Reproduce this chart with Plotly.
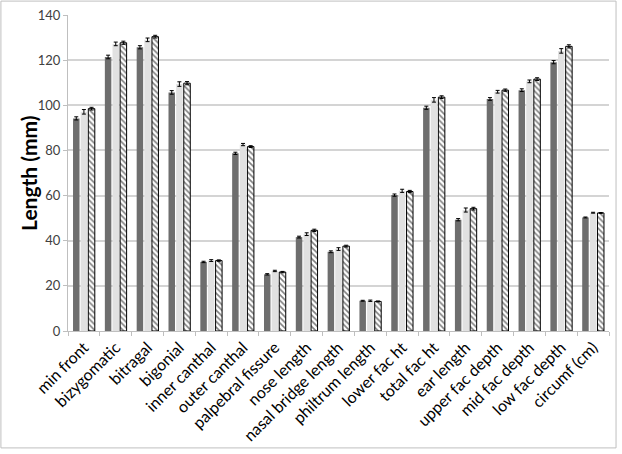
import plotly.graph_objects as go

categories = ["min front", "bizygomatic", "bitragal", "bigonial", "inner canthal",
              "outer canthal", "palpebral fissure", "nose length", "nasal bridge length",
              "philtrum length", "lower fac ht", "total fac ht", "ear length",
              "upper fac depth", "mid fac depth", "low fac depth", "circumf (cm)"]

series_a = [94.2, 121.4, 125.7, 105.7, 30.6, 78.7, 25.1, 41.6, 35.1, 13.4, 60.2, 98.9,
            49.3, 102.8, 106.7, 119.1, 50.3]
series_b = [97.1, 127.2, 129.0, 109.4, 31.2, 82.6, 26.6, 42.9, 36.3, 13.4, 62.1, 102.4,
            53.6, 106.0, 110.6, 124.1, 52.4]
series_c = [98.5, 127.7, 130.4, 109.8, 31.2, 81.7, 26.1, 44.6, 37.6, 13.1, 61.8, 103.6,
            54.2, 106.7, 111.6, 126.1, 52.3]

err_a = [0.7, 0.8, 0.7, 0.8, 0.3, 0.5, 0.3, 0.4, 0.4, 0.2, 0.5, 0.7, 0.5, 0.6, 0.6, 0.7, 0.2]
err_b = [1.0, 0.8, 0.8, 1.0, 0.4, 0.5, 0.3, 0.6, 0.6, 0.3, 0.7, 1.0, 0.9, 0.6, 0.6, 1.0, 0.2]
err_c = [0.6, 0.7, 0.6, 0.7, 0.3, 0.4, 0.3, 0.5, 0.4, 0.2, 0.5, 0.6, 0.6, 0.5, 0.6, 0.7, 0.2]

y_ticks = [0, 20, 40, 60, 80, 100, 120, 140]
y_title = "Length (mm)"

eb = dict(type="data", thickness=1, width=2, color="black")

fig = go.Figure()
fig.add_trace(go.Bar(x=categories, y=series_a, name="A",
                     marker=dict(color="#6e6e6e", line=dict(width=0)),
                     error_y=dict(array=err_a, **eb)))
fig.add_trace(go.Bar(x=categories, y=series_b, name="B",
                     marker=dict(color="#e1e1e1", line=dict(width=0)),
                     error_y=dict(array=err_b, **eb)))
fig.add_trace(go.Bar(x=categories, y=series_c, name="C",
                     marker=dict(color="white", line=dict(width=1, color="black"),
                                 pattern=dict(shape="\\", fgcolor="black", bgcolor="white",
                                              size=4, solidity=0.4)),
                     error_y=dict(array=err_c, **eb)))

fig.update_layout(
    width=622, height=454,
    margin=dict(l=68, r=13, t=15, b=123),
    paper_bgcolor="white", plot_bgcolor="white",
    barmode="group", bargap=0.28, bargroupgap=0.15,
    showlegend=False,
    font=dict(family="Lato, Open Sans, sans-serif", size=14, color="black"),
    xaxis=dict(tickangle=-45, tickson="boundaries", ticks="outside", ticklen=4,
               tickcolor="#bfbfbf", showline=True, linecolor="#bfbfbf",
               automargin=False,
               tickfont=dict(size=16, color="black")),
    yaxis=dict(range=[0, 140], tickvals=y_ticks, showgrid=True, gridcolor="#d4d4d4",
               gridwidth=1.5,
               showline=True, linecolor="#bfbfbf", ticks="outside", ticklen=4,
               tickcolor="#bfbfbf", zeroline=False, automargin=False,
               tickfont=dict(size=13, color="#404040")),
    annotations=[dict(text="<b>" + y_title + "</b>", xref="paper", yref="paper",
                      x=-0.074, y=0.5, textangle=-90, showarrow=False,
                      xanchor="center", yanchor="middle",
                      font=dict(size=21, color="black"))],
    shapes=[dict(type="rect", xref="paper", yref="paper",
                 x0=-0.124, x1=1.013, y0=-0.37, y1=1.044,
                 line=dict(color="#bfbfbf", width=1), layer="below")],
)

fig.write_html("out.html", config={"displayModeBar": False},
               post_script="document.body.style.margin='0';document.body.style.padding='0';")
